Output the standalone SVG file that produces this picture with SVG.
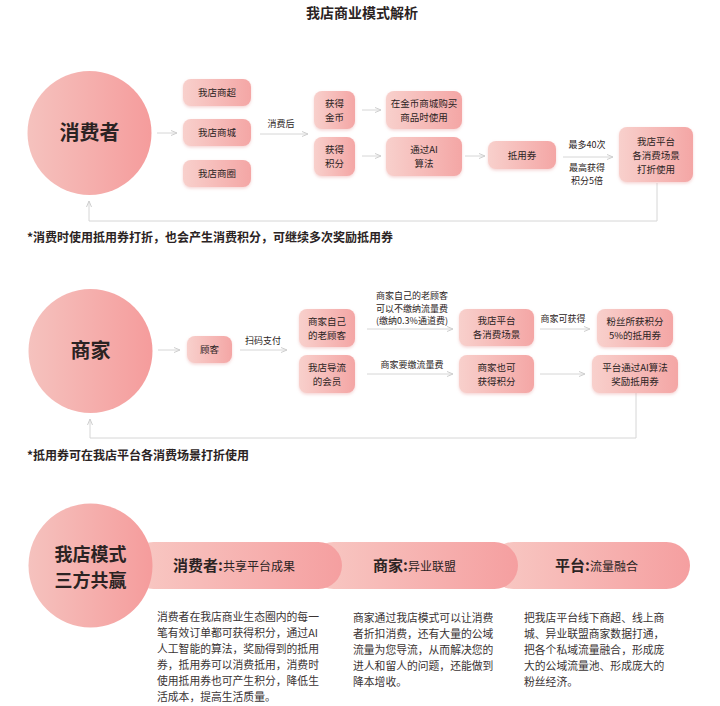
<svg xmlns="http://www.w3.org/2000/svg" width="720" height="706" viewBox="0 0 720 706">
<defs>
<linearGradient id="cg" x1="0" y1="0" x2="1" y2="0">
<stop offset="0" stop-color="#f5c2be"/>
<stop offset="1" stop-color="#f59c9c"/>
</linearGradient>
<linearGradient id="bg" x1="0" y1="0" x2="1" y2="0">
<stop offset="0" stop-color="#f8d0cc"/>
<stop offset="1" stop-color="#f4a6a5"/>
</linearGradient>
<linearGradient id="pg" x1="0" y1="0" x2="1" y2="0">
<stop offset="0" stop-color="#f8c9c4"/>
<stop offset="1" stop-color="#f59fa0"/>
</linearGradient>
<filter id="sh" x="-20%" y="-20%" width="140%" height="150%">
<feDropShadow dx="0" dy="1.5" stdDeviation="1.5" flood-color="#e8a0a0" flood-opacity="0.45"/>
</filter>
<marker id="ar" markerWidth="8" markerHeight="8" refX="7" refY="4" orient="auto" markerUnits="userSpaceOnUse">
<path d="M1,1.5 L7,4 L1,6.5" fill="none" stroke="#cfcfcf" stroke-width="1"/>
</marker>
</defs>
<style>
text{font-family:"Noto Sans CJK SC","Noto Sans",sans-serif;fill:#2b2323}
.t{font-size:9.5px;text-anchor:middle}
.l{font-size:9px;text-anchor:middle}
.big{font-size:20px;font-weight:bold;text-anchor:middle}
.big2{font-size:18px;font-weight:bold;text-anchor:middle}
.note{font-size:12px;font-weight:bold}
.body{font-size:10.8px;fill:#3a3333}
.b{fill:url(#bg);filter:url(#sh)}
.c{fill:url(#cg)}
.cn{fill:none;stroke:#d6d6d6;stroke-width:1}
.hb{font-size:15px;font-weight:bold}
.hn{font-size:12px;font-weight:normal}
</style>
<rect width="720" height="706" fill="#ffffff"/>
<text x="362" y="18" style="font-size:14px;font-weight:bold;text-anchor:middle">我店商业模式解析</text>

<g id="connectors">
<line class="cn" x1="157" y1="133" x2="177" y2="133" marker-end="url(#ar)"/>
<line class="cn" x1="260" y1="134" x2="308" y2="134" marker-end="url(#ar)"/>
<line class="cn" x1="362" y1="110" x2="381" y2="110" marker-end="url(#ar)"/>
<line class="cn" x1="362" y1="156" x2="381" y2="156" marker-end="url(#ar)"/>
<line class="cn" x1="465" y1="156" x2="485" y2="156" marker-end="url(#ar)"/>
<line class="cn" x1="563" y1="157" x2="613" y2="157" marker-end="url(#ar)"/>
<path class="cn" d="M657,183 V221 H89 V201" marker-end="url(#ar)"/>
<line class="cn" x1="158" y1="350" x2="180" y2="350" marker-end="url(#ar)"/>
<line class="cn" x1="240" y1="350" x2="287" y2="350" marker-end="url(#ar)"/>
<line class="cn" x1="367" y1="329" x2="453" y2="329" marker-end="url(#ar)"/>
<line class="cn" x1="367" y1="374" x2="453" y2="374" marker-end="url(#ar)"/>
<line class="cn" x1="540" y1="329" x2="590" y2="329" marker-end="url(#ar)"/>
<line class="cn" x1="540" y1="374" x2="585" y2="374" marker-end="url(#ar)"/>
<path class="cn" d="M636,393 V438 H90 V419" marker-end="url(#ar)"/>
<text class="l" x="281" y="127">消费后</text>
<text class="l" x="587" y="148">最多40次</text>
<text class="l" x="587" y="171">最高获得</text>
<text class="l" x="587" y="184">积分5倍</text>
<text class="l" x="263" y="344">扫码支付</text>
<text class="l" x="412" y="299">商家自己的老顾客</text>
<text class="l" x="412" y="311.5">可以不缴纳流量费</text>
<text class="l" x="412" y="324">(缴纳0.3%通道费)</text>
<text class="l" x="412" y="368">商家要缴流量费</text>
<text class="l" x="563" y="322">商家可获得</text>
</g>

<g id="consumer"><circle class="c" cx="89.5" cy="133" r="62"/><text class="big" x="89.5" y="140">消费者</text></g>
<g id="s1-chao"><rect class="b" x="183" y="79" width="68" height="27" rx="8"/><text class="t" x="217" y="96">我店商超</text></g>
<g id="s1-cheng"><rect class="b" x="183" y="119" width="68" height="27" rx="8"/><text class="t" x="217" y="136">我店商城</text></g>
<g id="s1-quan"><rect class="b" x="183" y="160" width="68" height="27" rx="8"/><text class="t" x="217" y="177">我店商圈</text></g>
<g id="s1-coin"><rect class="b" x="314" y="91" width="41" height="38" rx="8"/><text class="t" x="334.5" y="106.5">获得</text><text class="t" x="334.5" y="120.5">金币</text></g>
<g id="s1-points"><rect class="b" x="314" y="137" width="41" height="39" rx="8"/><text class="t" x="334.5" y="153">获得</text><text class="t" x="334.5" y="167">积分</text></g>
<g id="s1-buy"><rect class="b" x="386" y="91" width="76" height="38" rx="8"/><text class="t" x="424" y="106.5">在金币商城购买</text><text class="t" x="424" y="120.5">商品时使用</text></g>
<g id="s1-ai"><rect class="b" x="386" y="137" width="76" height="39" rx="8"/><text class="t" x="424" y="153">通过AI</text><text class="t" x="424" y="167">算法</text></g>
<g id="s1-coupon"><rect class="b" x="488" y="141" width="68" height="28" rx="8"/><text class="t" x="522" y="158.5">抵用券</text></g>
<g id="s1-platform"><rect class="b" x="619" y="127" width="74" height="55" rx="8"/><text class="t" x="656" y="145">我店平台</text><text class="t" x="656" y="159">各消费场景</text><text class="t" x="656" y="173">打折使用</text></g>
<text class="note" x="27" y="242">*消费时使用抵用券打折，也会产生消费积分，可继续多次奖励抵用券</text>

<g id="merchant"><circle class="c" cx="90.5" cy="351" r="62"/><text class="big" x="90.5" y="358">商家</text></g>
<g id="s2-customer"><rect class="b" x="187" y="336" width="45" height="27" rx="8"/><text class="t" x="209.5" y="353">顾客</text></g>
<g id="s2-old"><rect class="b" x="299" y="309" width="56" height="38" rx="8"/><text class="t" x="327" y="324.5">商家自己</text><text class="t" x="327" y="338.5">的老顾客</text></g>
<g id="s2-member"><rect class="b" x="299" y="355" width="56" height="38" rx="8"/><text class="t" x="327" y="370.5">我店导流</text><text class="t" x="327" y="384.5">的会员</text></g>
<g id="s2-scene"><rect class="b" x="459" y="309" width="75" height="37" rx="8"/><text class="t" x="496.5" y="324">我店平台</text><text class="t" x="496.5" y="338">各消费场景</text></g>
<g id="s2-mpoints"><rect class="b" x="459" y="355" width="75" height="38" rx="8"/><text class="t" x="496.5" y="370.5">商家也可</text><text class="t" x="496.5" y="384.5">获得积分</text></g>
<g id="s2-fans"><rect class="b" x="597" y="309" width="76" height="38" rx="8"/><text class="t" x="635" y="324.5">粉丝所获积分</text><text class="t" x="635" y="338.5">5%的抵用券</text></g>
<g id="s2-reward"><rect class="b" x="592" y="355" width="86" height="38" rx="8"/><text class="t" x="635" y="370.5">平台通过AI算法</text><text class="t" x="635" y="384.5">奖励抵用券</text></g>
<text class="note" x="27" y="460">*抵用券可在我店平台各消费场景打折使用</text>

<g id="pill-platform"><rect fill="url(#pg)" x="490" y="542" width="200" height="47" rx="23.5"/><text x="555" y="571"><tspan class="hb">平台:</tspan><tspan class="hn">流量融合</tspan></text></g>
<g id="pill-merchant"><rect fill="url(#pg)" x="310" y="542" width="208" height="47" rx="23.5"/><text x="373" y="571"><tspan class="hb">商家:</tspan><tspan class="hn">异业联盟</tspan></text></g>
<g id="pill-consumer"><rect fill="url(#pg)" x="130" y="542" width="212" height="47" rx="23.5"/><text x="173" y="571"><tspan class="hb">消费者:</tspan><tspan class="hn">共享平台成果</tspan></text></g>
<g id="win"><circle class="c" cx="90.5" cy="565.5" r="62"/><text class="big2" x="90.5" y="561">我店模式</text><text class="big2" x="90.5" y="587">三方共赢</text></g>

<g id="desc-consumer">
<text class="body" x="157" y="621">消费者在我店商业生态圈内的每一</text>
<text class="body" x="157" y="637">笔有效订单都可获得积分，通过AI</text>
<text class="body" x="157" y="653">人工智能的算法，奖励得到的抵用</text>
<text class="body" x="157" y="669">券，抵用券可以消费抵用，消费时</text>
<text class="body" x="157" y="685">使用抵用券也可产生积分，降低生</text>
<text class="body" x="157" y="701">活成本，提高生活质量。</text>
</g>
<g id="desc-merchant">
<text class="body" x="353" y="622">商家通过我店模式可以让消费</text>
<text class="body" x="353" y="638">者折扣消费，还有大量的公域</text>
<text class="body" x="353" y="654">流量为您导流，从而解决您的</text>
<text class="body" x="353" y="670">进人和留人的问题，还能做到</text>
<text class="body" x="353" y="686">降本增收。</text>
</g>
<g id="desc-platform">
<text class="body" x="524" y="622">把我店平台线下商超、线上商</text>
<text class="body" x="524" y="638">城、异业联盟商家数据打通，</text>
<text class="body" x="524" y="654">把各个私域流量融合，形成庞</text>
<text class="body" x="524" y="670">大的公域流量池、形成庞大的</text>
<text class="body" x="524" y="686">粉丝经济。</text>
</g>
</svg>
